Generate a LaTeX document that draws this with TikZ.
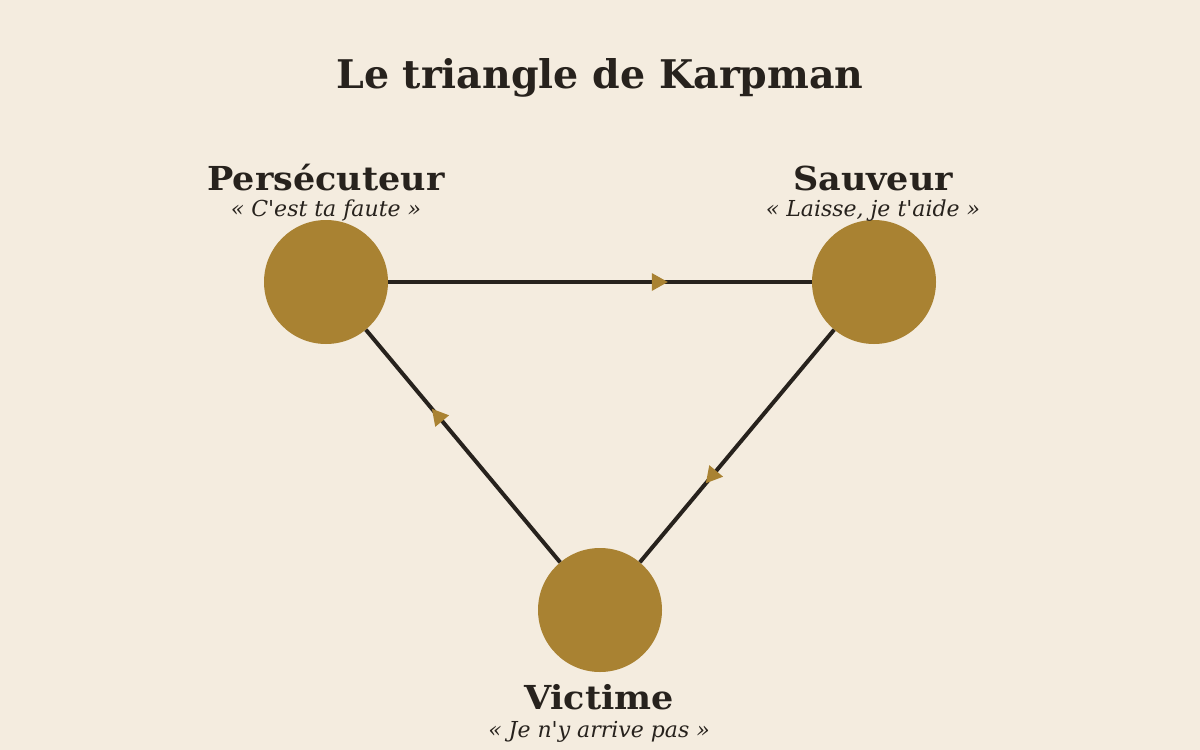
\documentclass[tikz,border=0pt]{standalone}
\usepackage{fontspec}
\setmainfont{DejaVu Serif}[Ligatures=TeXOff]
\newfontfamily\labelfont{DejaVu Serif}[Ligatures=TeXOff,FakeStretch=1.06]
\usetikzlibrary{arrows.meta,decorations.markings}
\definecolor{bg}{HTML}{F4ECDF}
\definecolor{gold}{HTML}{A98232}
\definecolor{ink}{HTML}{27221D}
\tikzset{
  role/.style={circle,fill=gold,minimum size=124pt,inner sep=0pt},
  rolename/.style={anchor=base,font=\labelfont\fontsize{33}{36}\selectfont\bfseries,text=ink,inner sep=0pt},
  quote/.style={anchor=base,font=\fontsize{22}{24}\selectfont\itshape,text=ink,inner sep=0pt},
  link/.style={draw=ink,line width=4pt,postaction={decorate},
    decoration={markings,mark=at position 0.66 with {\arrow[gold,line width=0pt]{Triangle[length=16pt,width=18pt]}}}}
}
\begin{document}
\begin{tikzpicture}[x=1pt,y=-1pt]
\fill[bg] (0,0) rectangle (1200,750);
\useasboundingbox (0,0) rectangle (1200,750);
\node[anchor=base,font=\fontsize{39.5}{44}\selectfont\bfseries,text=ink,inner sep=0pt] (title) at (600,88) {Le triangle de Karpman};
\node[role] (P) at (326,282) {};
\node[role] (S) at (874,282) {};
\node[role] (V) at (600,610) {};
\draw[link] (P) -- (S);
\draw[link] (S) -- (V);
\draw[link] (V) -- (P);
\node[rolename] (Pn) at (326,190) {Persécuteur};
\node[quote] (Pq) at (326,216) {« C'est ta faute »};
\node[rolename] (Sn) at (873,190) {Sauveur};
\node[quote] (Sq) at (873,216) {« Laisse, je t'aide »};
\node[rolename] (Vn) at (599,709) {Victime};
\node[quote] (Vq) at (599,737) {« Je n'y arrive pas »};
\end{tikzpicture}
\end{document}
